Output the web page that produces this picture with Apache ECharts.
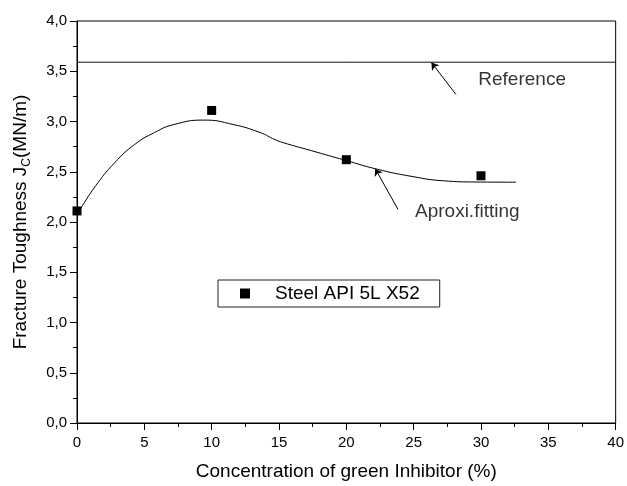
<!DOCTYPE html>
<html>
<head>
<meta charset="utf-8">
<script src="https://cdn.jsdelivr.net/npm/echarts@6/dist/echarts.min.js"></script>
<style>html,body{margin:0;padding:0;background:#fff}#c{width:627px;height:486px}</style>
</head>
<body>
<div id="c"></div>
<script>
// Measured points
const concX = [0, 10, 20, 30];
const toughY = [2.11, 3.11, 2.62, 2.46];
// Approximate fitting curve
const fitX = [0.22, 1.33, 2.8, 4.27, 5.75, 7.2, 9.43, 11.6, 13.6, 14.7, 15.3, 17.4, 19.9, 22.3, 24.8, 27.2, 29.7, 32.6];
const fitY = [2.12, 2.35, 2.59, 2.77, 2.89, 2.97, 3.014, 2.97, 2.89, 2.82, 2.79, 2.71, 2.615, 2.525, 2.455, 2.41, 2.398, 2.396];
// Reference level
const refX = [0, 40];
const refY = [3.59, 3.59];
// Annotations
const annText = ['Reference', 'Aproxi.fitting'];
const annPos = [[29.8, 3.42], [25.1, 2.10]];
const arrowFrom = [[28.14, 3.27], [23.84, 2.125]];
const arrowTo = [[26.32, 3.586], [22.15, 2.53]];
// Ticks
const xTicks = {min: 0, max: 40, interval: 5};
const yTicks = {min: 0, max: 4, interval: 0.5};

const FONT = '"Liberation Sans", Arial, sans-serif';
const chart = echarts.init(document.getElementById('c'), null, {renderer: 'canvas'});
chart.setOption({
  animation: false,
  backgroundColor: '#fff',
  grid: {left: 77, right: 7, top: 21, bottom: 60, show: true, borderColor: '#000', borderWidth: 1, backgroundColor: 'transparent'},
  legend: {
    data: [{name: 'Steel API 5L X52', itemStyle: {color: '#000', opacity: 1}}],
    left: 218, top: 280,
    orient: 'horizontal',
    padding: [4, 20, 4, 22],
    borderColor: '#222', borderWidth: 1,
    itemWidth: 10, itemHeight: 10,
    textStyle: {fontFamily: FONT, fontSize: 19, color: '#000', padding: [0, 0, 0, 20]}
  },
  xAxis: {
    type: 'value', min: xTicks.min, max: xTicks.max, interval: xTicks.interval,
    name: 'Concentration of green Inhibitor (%)', nameLocation: 'middle', nameGap: 39,
    nameTextStyle: {fontFamily: FONT, fontSize: 19, color: '#000'},
    axisLine: {show: true, lineStyle: {color: '#000', width: 1}},
    axisTick: {show: true, inside: false, length: 7, lineStyle: {color: '#000'}},
    minorTick: {show: true, splitNumber: 2, length: 4, lineStyle: {color: '#000'}},
    splitLine: {show: false},
    axisLabel: {fontFamily: FONT, fontSize: 15, color: '#000', margin: 12}
  },
  yAxis: {
    type: 'value', min: yTicks.min, max: yTicks.max, interval: yTicks.interval,
    name: '{a|Fracture Toughness J}{s|C}{a|(MN/m)}', nameLocation: 'middle', nameGap: 42, nameRotate: 90,
    nameTextStyle: {
      fontFamily: FONT, color: '#000',
      rich: {
        a: {fontFamily: FONT, fontSize: 19, color: '#000', lineHeight: 19, padding: [0, 0, 5, 0]},
        s: {fontFamily: FONT, fontSize: 12, color: '#000', lineHeight: 12, verticalAlign: 'bottom'}
      }
    },
    axisLine: {show: true, lineStyle: {color: '#000', width: 1}},
    axisTick: {show: true, inside: false, length: 7, lineStyle: {color: '#000'}},
    minorTick: {show: true, splitNumber: 2, length: 4, lineStyle: {color: '#000'}},
    splitLine: {show: false},
    axisLabel: {fontFamily: FONT, fontSize: 15, color: '#000', margin: 10,
      formatter: v => v.toFixed(1).replace('.', ',')}
  },
  series: [
    {
      name: 'Reference line', type: 'line', data: refX.map((x, i) => [x, refY[i]]),
      showSymbol: false, symbol: 'none', lineStyle: {color: '#111', width: 1}, silent: true
    },
    {
      name: 'Fit', type: 'line', data: fitX.map((x, i) => [x, fitY[i]]),
      smooth: 0.5, showSymbol: false, symbol: 'none', lineStyle: {color: '#000', width: 1}, silent: true
    },
    {
      name: 'Steel API 5L X52', type: 'scatter', symbol: 'rect', symbolSize: 9,
      itemStyle: {color: '#000', opacity: 1}, data: concX.map((x, i) => [x, toughY[i]]), z: 5
    },
    {
      name: 'Arrows', type: 'lines', coordinateSystem: 'cartesian2d',
      symbol: ['none', 'arrow'], symbolSize: [0, 7],
      lineStyle: {color: '#000', width: 1, opacity: 1},
      data: arrowFrom.map((f, i) => ({coords: [f, arrowTo[i]]})), silent: true
    },
    {
      name: 'Labels', type: 'scatter', symbol: 'circle', symbolSize: 0,
      data: annPos.map((p, i) => ({value: p, name: annText[i]})),
      label: {show: true, position: 'right', distance: 0, formatter: p => p.name,
        fontFamily: FONT, fontSize: 19, color: '#000'},
      silent: true
    }
  ]
});
</script>
</body>
</html>
